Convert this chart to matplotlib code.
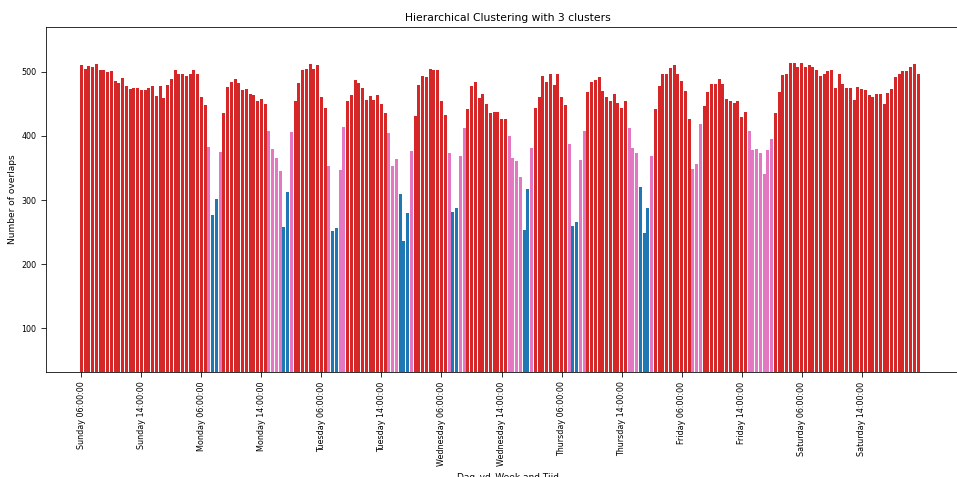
import numpy as np
import matplotlib.pyplot as plt

# Data: number of overlaps per half hour, 06:00 - 21:30, per day
days = ['Sunday', 'Monday', 'Tuesday', 'Wednesday', 'Thursday', 'Friday', 'Saturday']
times = [f'{h:02d}:{m:02d}:00' for h in range(6, 22) for m in (0, 30)]

sunday = [511, 505, 509, 508, 512, 503, 502, 500, 501, 486, 482, 490, 477, 473, 475, 475,
          472, 472, 474, 477, 462, 477, 459, 479, 488, 503, 496, 497, 493, 496, 502, 497]
monday = [460, 448, 383, 277, 301, 375, 436, 476, 484, 488, 482, 471, 473, 465, 464, 455,
          458, 449, 407, 380, 365, 346, 258, 312, 406, 455, 483, 502, 505, 512, 504, 511]
tuesday = [460, 443, 353, 251, 257, 347, 414, 454, 463, 487, 483, 474, 456, 462, 456, 463,
           449, 435, 404, 353, 364, 309, 236, 279, 376, 431, 479, 494, 492, 505, 502, 502]
wednesday = [455, 432, 373, 281, 287, 368, 412, 442, 478, 484, 459, 465, 450, 436, 437, 437,
             427, 426, 400, 365, 361, 336, 253, 317, 381, 443, 460, 493, 484, 496, 479, 496]
thursday = [461, 448, 387, 260, 266, 363, 408, 468, 484, 487, 492, 470, 461, 455, 466, 451,
            444, 455, 413, 381, 373, 321, 249, 287, 369, 442, 478, 496, 496, 506, 511, 496]
friday = [486, 470, 427, 348, 356, 419, 447, 468, 481, 481, 489, 481, 457, 454, 451, 455,
          430, 437, 407, 378, 379, 373, 341, 378, 395, 436, 468, 495, 497, 514, 513, 507]
saturday = [513, 508, 510, 507, 503, 493, 496, 501, 503, 474, 496, 481, 474, 474, 456, 476,
            473, 472, 464, 461, 465, 466, 450, 467, 473, 492, 497, 501, 501, 507, 512, 496]

# Cluster labels (0 = high, 1 = middle, 2 = low)
sunday_cl = [0] * 32
monday_cl = [0, 0, 1, 2, 2, 1, 0, 0, 0, 0, 0, 0, 0, 0, 0, 0,
             0, 0, 1, 1, 1, 1, 2, 2, 1, 0, 0, 0, 0, 0, 0, 0]
tuesday_cl = [0, 0, 1, 2, 2, 1, 1, 0, 0, 0, 0, 0, 0, 0, 0, 0,
              0, 0, 1, 1, 1, 2, 2, 2, 1, 0, 0, 0, 0, 0, 0, 0]
wednesday_cl = [0, 0, 1, 2, 2, 1, 1, 0, 0, 0, 0, 0, 0, 0, 0, 0,
                0, 0, 1, 1, 1, 1, 2, 2, 1, 0, 0, 0, 0, 0, 0, 0]
thursday_cl = [0, 0, 1, 2, 2, 1, 1, 0, 0, 0, 0, 0, 0, 0, 0, 0,
               0, 0, 1, 1, 1, 2, 2, 2, 1, 0, 0, 0, 0, 0, 0, 0]
friday_cl = [0, 0, 0, 1, 1, 1, 0, 0, 0, 0, 0, 0, 0, 0, 0, 0,
             0, 0, 1, 1, 1, 1, 1, 1, 1, 0, 0, 0, 0, 0, 0, 0]
saturday_cl = [0] * 32

cluster_colors = ['#d62728', '#e377c2', '#1f77b4']

values = sunday + monday + tuesday + wednesday + thursday + friday + saturday
clusters = sunday_cl + monday_cl + tuesday_cl + wednesday_cl + thursday_cl + friday_cl + saturday_cl
labels = [f'{d} {t}' for d in days for t in times]
x = np.arange(len(values))

# Figure (the original was cropped on the right and bottom)
fig = plt.figure(figsize=(957 / 72, 477 / 72), dpi=72)
ax_w = 924
ax = fig.add_axes([46 / 957, 105.3 / 477, ax_w / 957, 344.7 / 477])

ax.bar(x, values, width=0.8, color=[cluster_colors[c] for c in clusters])

ax.set_xticks(x[::16])
ax.set_xticklabels(labels[::16], rotation=90)
ax.tick_params(labelsize=8, length=4.9, pad=4.9)
ax.set_xlim(-9.41, -9.41 + ax_w / 3.752)
ax.set_ylim(32.4, 569.7)

ax.set_xlabel('Dag_vd_Week and Tijd', fontsize=9, labelpad=7)
ax.set_ylabel('Number of overlaps', fontsize=9)
ax.set_title('Hierarchical Clustering with 3 clusters', fontsize=10.8)

fig.savefig('out.png', dpi=72)
